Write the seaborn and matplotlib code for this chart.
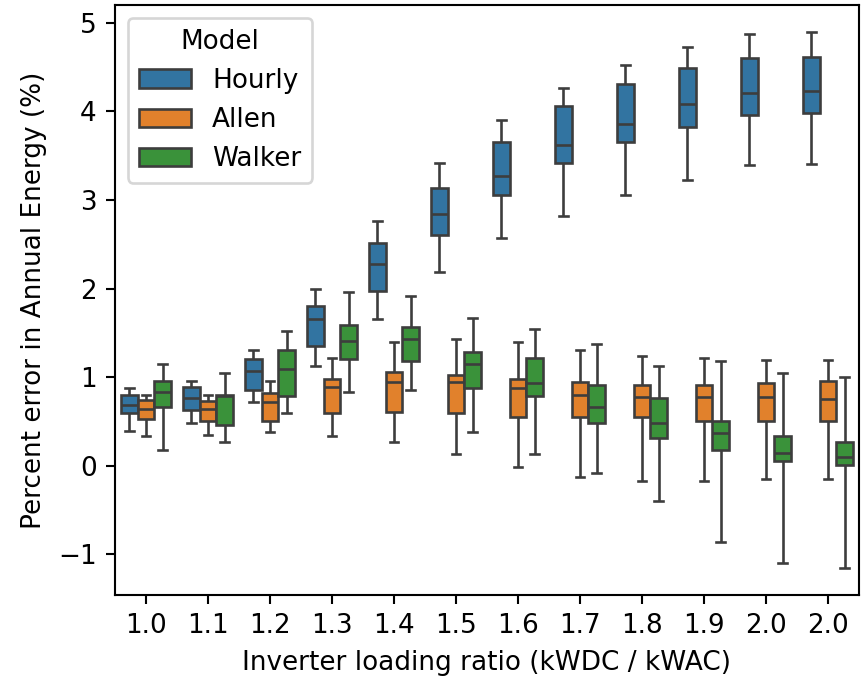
import pandas as pd
import matplotlib
matplotlib.use("Agg")
import matplotlib.pyplot as plt
import seaborn as sns

# Inverter loading ratio labels (one per case, last two both round to 2.0)
ilr_labels = ["1.0", "1.1", "1.2", "1.3", "1.4", "1.5",
              "1.6", "1.7", "1.8", "1.9", "2.0", "2.0"]

# Box stats per case: (min, q1, median, q3, max) in percent error
hourly = [
    (0.39, 0.59, 0.68, 0.80, 0.88),
    (0.48, 0.63, 0.76, 0.89, 0.96),
    (0.72, 0.85, 1.07, 1.20, 1.31),
    (1.13, 1.35, 1.65, 1.80, 2.00),
    (1.65, 1.97, 2.28, 2.51, 2.76),
    (2.19, 2.60, 2.84, 3.14, 3.42),
    (2.57, 3.06, 3.27, 3.66, 3.90),
    (2.82, 3.42, 3.62, 4.06, 4.27),
    (3.06, 3.66, 3.86, 4.31, 4.53),
    (3.23, 3.82, 4.08, 4.49, 4.73),
    (3.39, 3.96, 4.21, 4.60, 4.88),
    (3.41, 3.98, 4.23, 4.62, 4.90),
]
allen = [
    (0.33, 0.53, 0.64, 0.74, 0.80),
    (0.35, 0.50, 0.64, 0.73, 0.80),
    (0.375, 0.50, 0.72, 0.82, 0.96),
    (0.33, 0.59, 0.89, 0.98, 1.22),
    (0.27, 0.61, 0.94, 1.06, 1.39),
    (0.135, 0.59, 0.94, 1.02, 1.43),
    (-0.015, 0.55, 0.88, 0.98, 1.39),
    (-0.13, 0.55, 0.80, 0.94, 1.30),
    (-0.17, 0.55, 0.77, 0.905, 1.24),
    (-0.17, 0.50, 0.77, 0.905, 1.22),
    (-0.15, 0.50, 0.77, 0.93, 1.195),
    (-0.15, 0.50, 0.75, 0.955, 1.195),
]
walker = [
    (0.18, 0.66, 0.83, 0.95, 1.15),
    (0.27, 0.46, 0.78, 0.80, 1.045),
    (0.59, 0.79, 1.09, 1.30, 1.52),
    (0.83, 1.20, 1.41, 1.59, 1.96),
    (0.85, 1.18, 1.43, 1.56, 1.91),
    (0.38, 0.875, 1.15, 1.28, 1.67),
    (0.135, 0.79, 0.93, 1.21, 1.54),
    (-0.08, 0.48, 0.66, 0.905, 1.375),
    (-0.40, 0.31, 0.48, 0.76, 1.13),
    (-0.86, 0.18, 0.37, 0.50, 1.18),
    (-1.10, 0.05, 0.14, 0.33, 1.04),
    (-1.16, 0.01, 0.10, 0.27, 1.00),
]
models = {"Hourly": hourly, "Allen": allen, "Walker": walker}

# long table: five values per box reproduce min/quartiles/median/max exactly
rows = []
for model, stats in models.items():
    for case, vals in enumerate(stats):
        for v in vals:
            rows.append({"case": case, "Model": model, "error": v})
df = pd.DataFrame(rows)

DPI = 189
fig, ax = plt.subplots(figsize=(864 / DPI, 679 / DPI), dpi=DPI)
fig.subplots_adjust(left=0.1331, right=0.9942, bottom=0.1237, top=0.9926)

sns.boxplot(data=df, x="case", y="error", hue="Model", whis=(0, 100),
            hue_order=list(models), ax=ax)

ax.set_xticks(range(len(ilr_labels)), ilr_labels)
ax.set_xlabel("Inverter loading ratio (kWDC / kWAC)")
ax.set_ylabel("Percent error in Annual Energy (%)")
ax.legend(title="Model", loc="upper left")

plt.savefig("out.png", dpi=DPI)
plt.close()
